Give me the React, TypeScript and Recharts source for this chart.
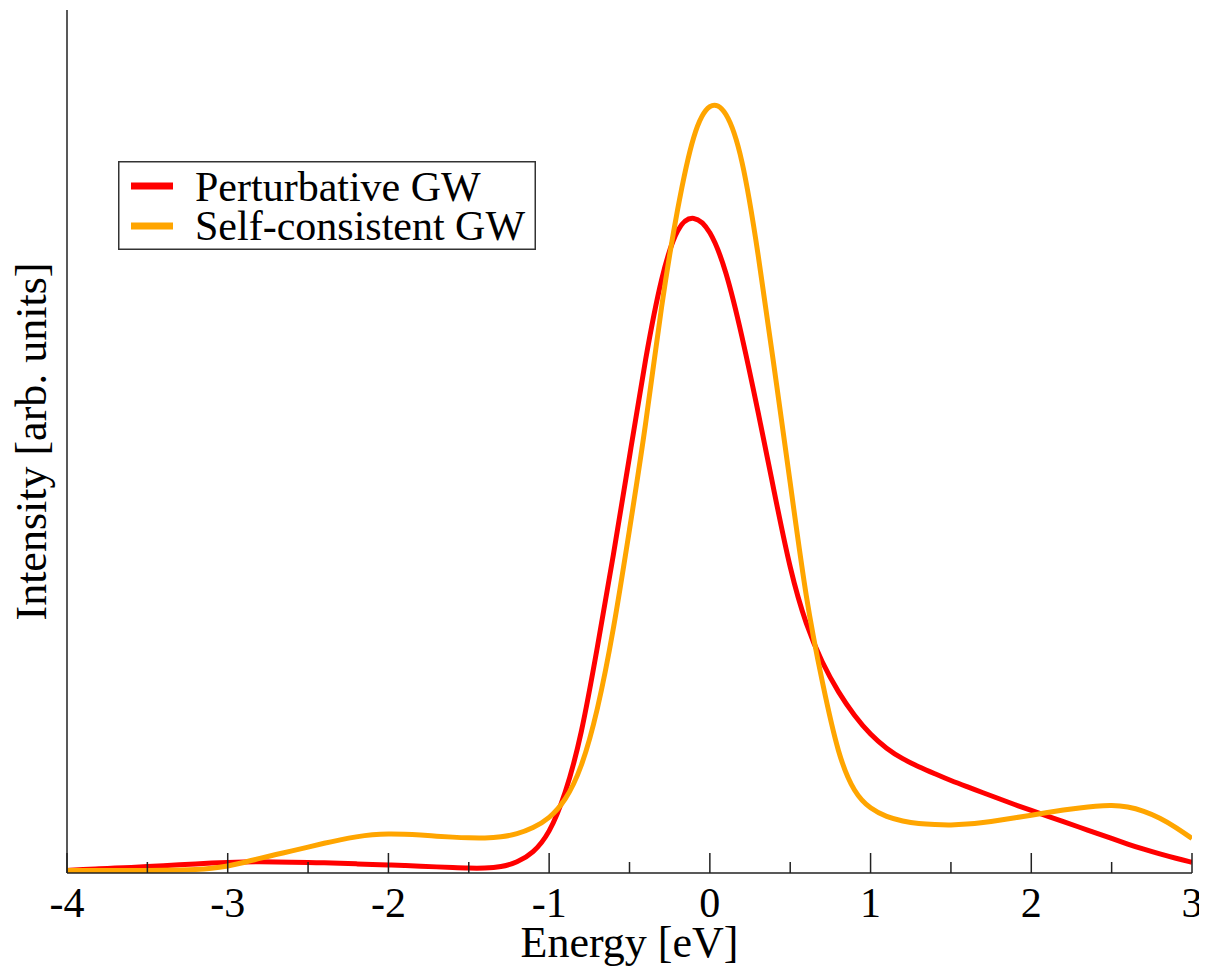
import { LineChart, Line, XAxis, YAxis, Legend } from 'recharts'

const energy = [
  -4.0, -3.9, -3.8, -3.7, -3.6, -3.5, -3.4, -3.3, -3.2, -3.1,
  -3.0, -2.9, -2.8, -2.7, -2.6, -2.5, -2.4, -2.3, -2.2, -2.1,
  -2.0, -1.9, -1.8, -1.7, -1.6, -1.5, -1.4, -1.3, -1.2, -1.1,
  -1.0, -0.9, -0.8, -0.7, -0.6, -0.5, -0.4, -0.3, -0.2, -0.1,
  0.0, 0.1, 0.2, 0.3, 0.4, 0.5, 0.6, 0.7, 0.8, 0.9,
  1.0, 1.1, 1.2, 1.3, 1.4, 1.5, 1.6, 1.7, 1.8, 1.9,
  2.0, 2.1, 2.2, 2.3, 2.4, 2.5, 2.6, 2.7, 2.8, 2.9,
  3.0,
]

const perturbative = [
  0.3, 0.4, 0.48, 0.57, 0.65, 0.74, 0.84, 0.95, 1.05, 1.15,
  1.23, 1.28, 1.3, 1.28, 1.25, 1.22, 1.18, 1.12, 1.06, 1.0,
  0.93, 0.86, 0.79, 0.71, 0.63, 0.56, 0.55, 0.68, 1.2, 2.3,
  4.5, 9.0, 15.8, 26.1, 36.8, 48.2, 59.8, 69.4, 75.2, 76.3,
  74.7, 70.0, 62.3, 53.5, 44.2, 35.0, 28.6, 24.3, 20.9, 18.2,
  16.0, 14.4, 13.2, 12.3, 11.5, 10.7, 10.0, 9.3, 8.6, 7.9,
  7.25, 6.6, 5.95, 5.3, 4.65, 4.0, 3.35, 2.75, 2.2, 1.7,
  1.25,
]

const selfConsistent = [
  0.3, 0.3, 0.3, 0.3, 0.3, 0.3, 0.32, 0.35, 0.4, 0.52,
  0.8, 1.2, 1.7, 2.15, 2.55, 3.0, 3.45, 3.85, 4.2, 4.45,
  4.55, 4.5, 4.4, 4.27, 4.15, 4.07, 4.05, 4.15, 4.5, 5.2,
  6.3, 8.3, 12.0, 18.6, 28.0, 39.8, 51.6, 66.2, 77.3, 86.2,
  89.5, 88.6, 83.4, 72.0, 58.6, 45.3, 31.4, 22.0, 13.5, 9.2,
  7.4, 6.5, 6.0, 5.7, 5.6, 5.55, 5.65, 5.85, 6.1, 6.4,
  6.7, 7.0, 7.3, 7.55, 7.75, 7.85, 7.7, 7.2, 6.4, 5.3,
  4.0,
]

const xTicks = [-4, -3.5, -3, -2.5, -2, -1.5, -1, -0.5, 0, 0.5, 1, 1.5, 2, 2.5, 3]

const data = energy.map((e, i) => ({
  energy: e,
  perturbative: perturbative[i],
  selfConsistent: selfConsistent[i],
}))

const FONT = "'Liberation Serif', 'Times New Roman', Tinos, 'DejaVu Serif', serif"
const AXIS = '#222'
const textStyle = { fontFamily: FONT }

function BottomTick({ x, y, payload }: any) {
  const major = Number.isInteger(payload.value)
  return (
    <g>
      <line x1={x} x2={x} y1={y} y2={y - (major ? 20 : 11)} stroke={AXIS} strokeWidth={1.5} />
      {major && (
        <text x={x} y={y + 44} textAnchor="middle" fontSize={42} style={textStyle} fill="#000">
          {payload.value}
        </text>
      )}
    </g>
  )
}

function TopTick({ x, y, payload }: any) {
  const major = Number.isInteger(payload.value)
  return <line x1={x} x2={x} y1={y} y2={y + (major ? 20 : 11)} stroke={AXIS} strokeWidth={1.5} />
}

function XLabel({ viewBox }: any) {
  const cx = viewBox.x + viewBox.width / 2
  return (
    <text x={cx} y={viewBox.y + 84} textAnchor="middle" fontSize={44} style={textStyle} fill="#000">
      Energy [eV]
    </text>
  )
}

function YLabel({ viewBox }: any) {
  const cx = viewBox.x + 38
  const cy = viewBox.y + viewBox.height / 2
  return (
    <text
      x={cx}
      y={cy}
      transform={`rotate(-90 ${cx} ${cy})`}
      textAnchor="middle"
      fontSize={44}
      style={textStyle}
      fill="#000"
    >
      Intensity [arb. units]
    </text>
  )
}

function LegendBox({ payload }: any) {
  return (
    <svg width={418} height={89} style={{ display: 'block' }}>
      <rect x={0.75} y={0.75} width={416.5} height={87.5} fill="#fff" stroke="#333" strokeWidth={1.5} />
      {(payload ?? []).map((p: any, i: number) => (
        <g key={p.value}>
          <line x1={13} x2={55} y1={25 + i * 40} y2={25 + i * 40} stroke={p.color} strokeWidth={7} />
          <text x={77} y={40 + i * 39} fontSize={42} style={textStyle} fill="#000">
            {p.value}
          </text>
        </g>
      ))}
    </svg>
  )
}

export default function App() {
  return (
    <LineChart
      width={1199}
      height={961}
      data={data}
      margin={{ top: 2, right: 15, bottom: 0, left: 0 }}
      style={textStyle}
    >
      <XAxis
        dataKey="energy"
        type="number"
        domain={[-4, 3]}
        ticks={xTicks}
        interval={0}
        height={96}
        tickSize={0}
        tickMargin={0}
        tickLine={false}
        tick={BottomTick}
        axisLine={{ stroke: AXIS, strokeWidth: 1.5 }}
        label={{ content: XLabel }}
        allowDataOverflow
      />
      <XAxis
        xAxisId="top"
        dataKey="energy"
        type="number"
        orientation="top"
        domain={[-4, 3]}
        ticks={xTicks}
        interval={0}
        height={0}
        tickSize={0}
        tickMargin={0}
        tickLine={false}
        tick={TopTick}
        axisLine={{ stroke: AXIS, strokeWidth: 1.5 }}
        allowDataOverflow
      />
      <YAxis
        type="number"
        domain={[0, 100]}
        width={59}
        tick={false}
        tickLine={false}
        axisLine={{ stroke: AXIS, strokeWidth: 1.5 }}
        label={{ content: YLabel }}
        allowDataOverflow
      />
      <YAxis
        yAxisId="right"
        orientation="right"
        type="number"
        domain={[0, 100]}
        width={0}
        tick={false}
        tickLine={false}
        axisLine={{ stroke: AXIS, strokeWidth: 1.5 }}
      />
      <Legend
        layout="vertical"
        align="center"
        verticalAlign="middle"
        content={LegendBox}
        wrapperStyle={{ left: 110, top: 153, width: 418, height: 89 }}
      />
      <Line
        type="basis"
        dataKey="perturbative"
        name="Perturbative GW"
        stroke="#ff0000"
        strokeWidth={5}
        dot={false}
        isAnimationActive={false}
      />
      <Line
        type="basis"
        dataKey="selfConsistent"
        name="Self-consistent GW"
        stroke="#ffa500"
        strokeWidth={5}
        dot={false}
        isAnimationActive={false}
      />
    </LineChart>
  )
}
